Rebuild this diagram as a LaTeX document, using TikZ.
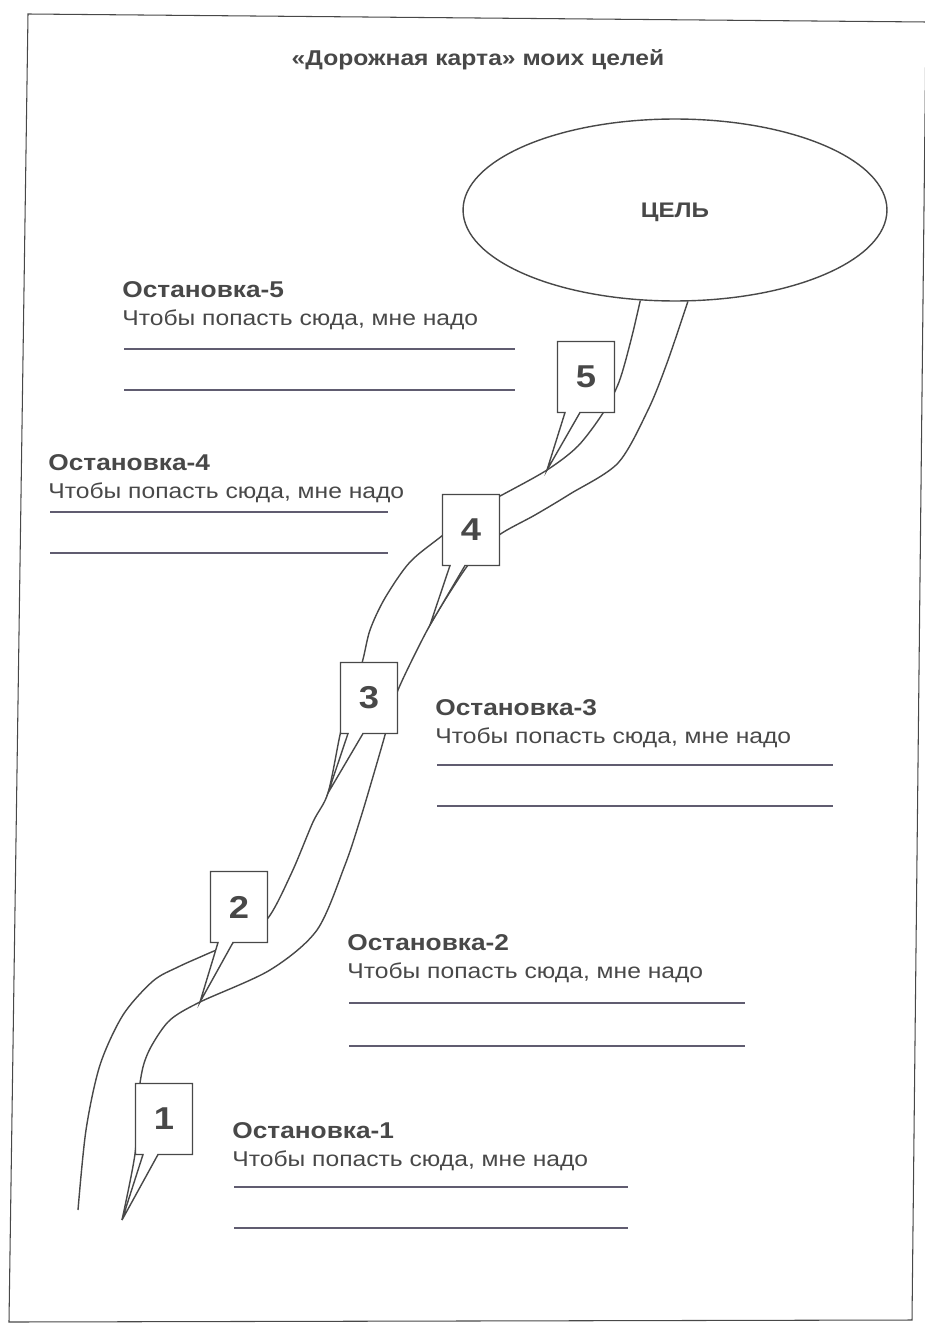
\documentclass[tikz,border=0pt]{standalone}
\usepackage{fontspec}
\setmainfont{Liberation Sans}[FakeStretch=1.15]
\usepackage{tikz}
\usetikzlibrary{
calc,
shapes.geometric,
shapes.callouts,
}

\definecolor{ink}{RGB}{72,72,72}
\definecolor{rule}{RGB}{96,92,112}

\tikzset{
	road/.style={draw=ink, line width=0.8pt},
	stopbox/.style={rectangle callout, draw=ink, fill=white, line width=0.8pt, minimum width=1.14cm, minimum height=1.42cm, inner sep=0pt, callout pointer width=0.3cm, font=\fontsize{18}{20}\selectfont\bfseries, text=ink},
	goal/.style={ellipse, draw=ink, line width=0.8pt, minimum width=8.48cm, minimum height=3.64cm, text depth=0pt, font=\fontsize{12}{14}\selectfont\bfseries, text=ink},
	stophead/.style={anchor=west, inner sep=0pt, font=\fontsize{13}{15}\selectfont\bfseries, text=ink},
	stoptext/.style={anchor=west, inner sep=0pt, font=\fontsize{12.2}{14}\selectfont, text=ink},
	blank/.style={draw=rule, line width=0.9pt},
}

\begin{document}
\begin{tikzpicture}[x=0.02cm, y=-0.02cm]
			\useasboundingbox (0,0) rectangle (924,1324);
			\draw[ink, line width=0.6pt] (28,14) -- (926,22) -- (912,1320) -- (9,1322) -- cycle;

			\node[font=\fontsize{12.2}{14}\selectfont\bfseries, text=ink] (title) at (478,60) {«Дорожная карта» моих целей};
			\node[goal] (goal) at (675,210) {ЦЕЛЬ};

			\coordinate (t1) at (122,1220);
			\coordinate (t2) at (200,1002);
			\coordinate (t3) at (328,793);
			\coordinate (t4) at (430,625);
			\coordinate (t5) at (547,470);

			\draw[road] plot[smooth, tension=0.5] coordinates {(goal.-111) (631,340) (619,382) (603,413) (578,446) (t5) (502,495) (470,512) (443,535) (410,562) (385,598) (370,630) (362,663) (348,705) (340,735) (t3) (313,822) (292,872) (268,918) (238,940) (207,954) (178,967) (153,981) (123,1015) (100,1065) (86,1130) (78,1210)};
			\draw[road] plot[smooth, tension=0.5] coordinates {(goal.-82) (667,363) (648,410) (618,463) (570,494) (535,515) (499,535) (472,560) (450,592) (t4) (413,658) (398,690) (390,715) (385,735) (372,780) (360,820) (345,865) (317,930) (270,970) (t2) (170,1020) (152,1045) (143,1067) (138,1100) (135,1154) (t1)};

			\foreach \n/\x/\y in {1/164/1119, 2/239/907, 3/369/698, 4/471/530, 5/586/377}
				\node[stopbox, callout absolute pointer={(t\n)}] (box\n) at (\x,\y) {\n};

			\foreach \n/\x/\y/\a/\b/\len in {5/122/290/349/390/391, 4/48/463/512/553/338, 3/435/708/765/806/396, 2/347/943/1003/1046/396, 1/232/1131/1187/1228/394}{
				\node[stophead] (head\n) at (\x,\y) {Остановка-\n};
				\node[stoptext] (text\n) at (\x,\y+30) {Чтобы попасть сюда, мне надо};
				\draw[blank] (\x+2,\a) -- ++(\len,0);
				\draw[blank] (\x+2,\b) -- ++(\len,0);
			}
		\end{tikzpicture}
\end{document}
